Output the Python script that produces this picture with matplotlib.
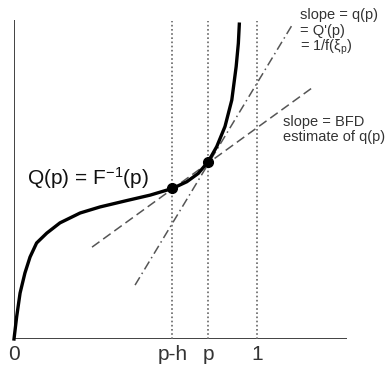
import matplotlib.pyplot as plt

plt.rcParams['font.family'] = ['Liberation Sans', 'DejaVu Sans']
plt.rcParams['mathtext.fontset'] = 'custom'
plt.rcParams['mathtext.rm'] = 'Liberation Sans'
plt.rcParams['mathtext.it'] = 'Liberation Sans'

# quantile curve Q(p)
p_vals = [0, 0.011, 0.025, 0.045, 0.066, 0.093, 0.135, 0.189, 0.272, 0.354, 0.464,
          0.560, 0.652, 0.711, 0.758, 0.799, 0.834, 0.868, 0.896, 0.914, 0.923, 0.927]
q_vals = [0, 0.070, 0.144, 0.207, 0.257, 0.301, 0.332, 0.364, 0.395, 0.414, 0.434,
          0.451, 0.472, 0.493, 0.519, 0.556, 0.603, 0.666, 0.749, 0.854, 0.927, 0.987]

# marked points p-h and p
pts_x = [0.652, 0.799]
pts_y = [0.472, 0.556]

# BFD secant and tangent lines (end points)
bfd_x = [0.321, 1.226]
bfd_y = [0.288, 0.787]
tan_x = [0.498, 1.144]
tan_y = [0.169, 0.984]

vlines_x = [0.652, 0.799, 1.0]
tick_pos = [0, 0.652, 0.799, 1.0]
tick_lab = ['0', 'p-h', 'p', '1']

fig = plt.figure(figsize=(3.86, 3.71), dpi=100)
ax = fig.add_axes([14/386, 32/371, 333/386, 319/371])
ax.set_xlim(0, 1.37)
ax.set_ylim(0, 1.0)
ax.axis('off')

dark = '#333333'
ax.plot([0, 0], [0, 1.0], color=dark, lw=1.3, solid_capstyle='butt')
ax.plot([0, 1.37], [0, 0], color=dark, lw=1.3, solid_capstyle='butt')

for x in vlines_x:
    ax.plot([x, x], [0, 0.996], color='#666666', lw=1.2, ls=(0, (1, 1.5)))

ax.plot(bfd_x, bfd_y, color='#555555', lw=1.1, ls=(0, (6, 3)))
ax.plot(tan_x, tan_y, color='#555555', lw=1.1, ls=(0, (6, 2.5, 1, 2.5)))

ax.plot(p_vals, q_vals, color='black', lw=2.4, solid_joinstyle='round', clip_on=False)
ax.plot(pts_x, pts_y, 'o', color='black', ms=7)

for x, lab in zip(tick_pos, tick_lab):
    ax.text(x, -0.05, lab, ha='center', va='center', fontsize=15, color=dark)

ax.text(0.053, 0.505, r'Q(p) = F$^{\mathregular{-1}}$(p)', ha='left', va='center',
        fontsize=15, color='#111111')

fs = 10.5
ax.text(1.177, 1.016, 'slope = q(p)', ha='left', va='center', fontsize=fs, color=dark, clip_on=False)
ax.text(1.177, 0.966, "= Q'(p)", ha='left', va='center', fontsize=fs, color=dark, clip_on=False)
ax.text(1.177, 0.915, r'= 1/f($\xi_{\mathregular{p}}$)', ha='left', va='center', fontsize=fs, color=dark, clip_on=False)
ax.text(1.107, 0.680, 'slope = BFD', ha='left', va='center', fontsize=fs, color=dark, clip_on=False)
ax.text(1.107, 0.633, 'estimate of q(p)', ha='left', va='center', fontsize=fs, color=dark, clip_on=False)

fig.savefig('out.png', dpi=100)
